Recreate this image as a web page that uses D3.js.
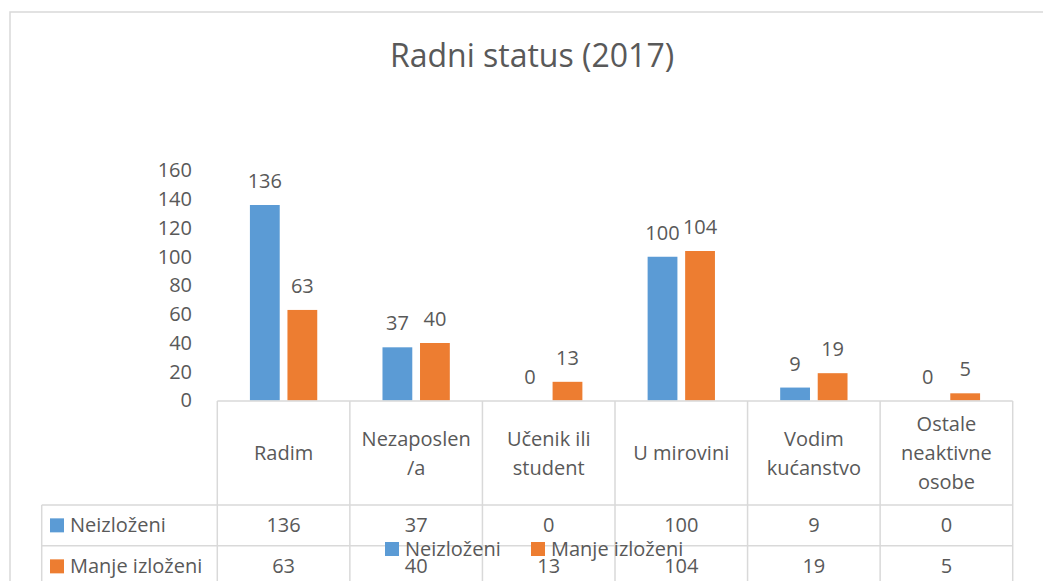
<!DOCTYPE html>
<html>
<head>
<meta charset="utf-8">
<script src="https://cdn.jsdelivr.net/npm/d3@7"></script>
<style>
  body { margin: 0; background: #fff; }
  text { font-family: "Open Sans", sans-serif; fill: #595959; }
</style>
</head>
<body>
<script>
var width = 1043;
var height = 581;

// data
var categories = ["Radim", "Nezaposlen/a", "Učenik ili student", "U mirovini", "Vodim kućanstvo", "Ostale neaktivne osobe"];
var categoryLines = [["Radim"], ["Nezaposlen", "/a"], ["Učenik ili", "student"], ["U mirovini"], ["Vodim", "kućanstvo"], ["Ostale", "neaktivne", "osobe"]];
var seriesNames = ["Neizloženi", "Manje izloženi"];
var neizlozeni = [136, 37, 0, 100, 9, 0];
var manjeIzlozeni = [63, 40, 13, 104, 19, 5];
var yTicks = [0, 20, 40, 60, 80, 100, 120, 140, 160];
var colors = ["#5B9BD5", "#ED7D31"];

var seriesValues = [neizlozeni, manjeIzlozeni];
var gridColor = "#d9d9d9";

var svg = d3.select("body")
    .append("svg")
    .attr("width", width)
    .attr("height", height);

// outer chart border (runs off the picture on right and bottom)
svg.append("rect")
    .attr("x", 10)
    .attr("y", 12)
    .attr("width", 1060)
    .attr("height", 600)
    .attr("fill", "none")
    .attr("stroke", gridColor)
    .attr("stroke-width", 1.5);

// title
svg.append("text")
    .attr("x", 532)
    .attr("y", 67)
    .attr("text-anchor", "middle")
    .style("font-size", "32px")
    .text("Radni status (2017)");

var x = d3.scaleBand()
    .domain(categories)
    .range([217.3, 1012.7])
    .padding(0);

var xInner = d3.scaleBand()
    .domain(seriesNames)
    .range([0, x.bandwidth()])
    .paddingInner(0.206)
    .paddingOuter(0.869);

var y = d3.scaleLinear()
    .domain([0, 160])
    .range([400.5, 170.5]);

// y axis labels only
var yAxis = svg.append("g")
    .attr("transform", "translate(200,0)")
    .call(d3.axisLeft(y).tickValues(yTicks).tickSize(0).tickPadding(8));
yAxis.select(".domain").remove();
yAxis.selectAll("text")
    .attr("fill", "#595959")
    .style("font-family", "'Open Sans', sans-serif")
    .style("font-size", "20px");

// bars
var groups = svg.selectAll("g.cat")
    .data(categories)
    .enter()
    .append("g")
    .attr("class", "cat")
    .attr("transform", function(d) { return "translate(" + x(d) + ",0)"; });

groups.each(function(cat, i) {
    var g = d3.select(this);
    seriesNames.forEach(function(s, j) {
        var v = seriesValues[j][i];
        g.append("rect")
            .attr("x", xInner(s))
            .attr("y", y(v))
            .attr("width", xInner.bandwidth())
            .attr("height", y(0) - y(v))
            .attr("fill", colors[j]);
        g.append("text")
            .attr("x", xInner(s) + xInner.bandwidth() / 2)
            .attr("y", y(v) - 17)
            .attr("text-anchor", "middle")
            .style("font-size", "20px")
            .text(v);
    });
});

// data table below the plot
var tableTop = 401;
var headerBottom = 505;
var row1Bottom = 545.7;
var row2Bottom = 587;
var tableLeft = 41.7;
var tableRight = x.range()[1];
var lines = svg.append("g").attr("stroke", gridColor).attr("stroke-width", 1.5);

lines.append("line")
    .attr("x1", x.range()[0]).attr("x2", tableRight)
    .attr("y1", tableTop).attr("y2", tableTop);
[headerBottom, row1Bottom, row2Bottom].forEach(function(yy) {
    lines.append("line")
        .attr("x1", tableLeft).attr("x2", tableRight)
        .attr("y1", yy).attr("y2", yy);
});
lines.append("line")
    .attr("x1", tableLeft).attr("x2", tableLeft)
    .attr("y1", headerBottom).attr("y2", 600);
categories.forEach(function(c) {
    lines.append("line")
        .attr("x1", x(c)).attr("x2", x(c))
        .attr("y1", tableTop).attr("y2", 600);
});
lines.append("line")
    .attr("x1", tableRight).attr("x2", tableRight)
    .attr("y1", tableTop).attr("y2", 600);

// header labels
categories.forEach(function(c, i) {
    var ls = categoryLines[i];
    var cy = (tableTop + headerBottom) / 2;
    var lh = 29;
    var t = svg.append("text")
        .attr("text-anchor", "middle")
        .style("font-size", "20px");
    ls.forEach(function(l, k) {
        t.append("tspan")
            .attr("x", x(c) + x.bandwidth() / 2)
            .attr("y", cy + (k - (ls.length - 1) / 2) * lh)
            .attr("dy", "0.35em")
            .text(l);
    });
});

// table rows
var rowCenters = [(headerBottom + row1Bottom) / 2, (row1Bottom + row2Bottom) / 2];
seriesNames.forEach(function(s, j) {
    var cy = rowCenters[j];
    svg.append("rect")
        .attr("x", 50)
        .attr("y", cy - 7)
        .attr("width", 14)
        .attr("height", 14)
        .attr("fill", colors[j]);
    svg.append("text")
        .attr("x", 70)
        .attr("y", cy)
        .attr("dy", "0.35em")
        .style("font-size", "20px")
        .text(s);
    categories.forEach(function(c, i) {
        svg.append("text")
            .attr("x", x(c) + x.bandwidth() / 2)
            .attr("y", cy)
            .attr("dy", "0.35em")
            .attr("text-anchor", "middle")
            .style("font-size", "20px")
            .text(seriesValues[j][i]);
    });
});

// legend (overlapping the table, as in the original)
var legendX = [385, 531];
seriesNames.forEach(function(s, j) {
    svg.append("rect")
        .attr("x", legendX[j])
        .attr("y", 542)
        .attr("width", 14)
        .attr("height", 14)
        .attr("fill", colors[j]);
    svg.append("text")
        .attr("x", legendX[j] + 20)
        .attr("y", 549)
        .attr("dy", "0.35em")
        .style("font-size", "20px")
        .text(s);
});
</script>
</body>
</html>
